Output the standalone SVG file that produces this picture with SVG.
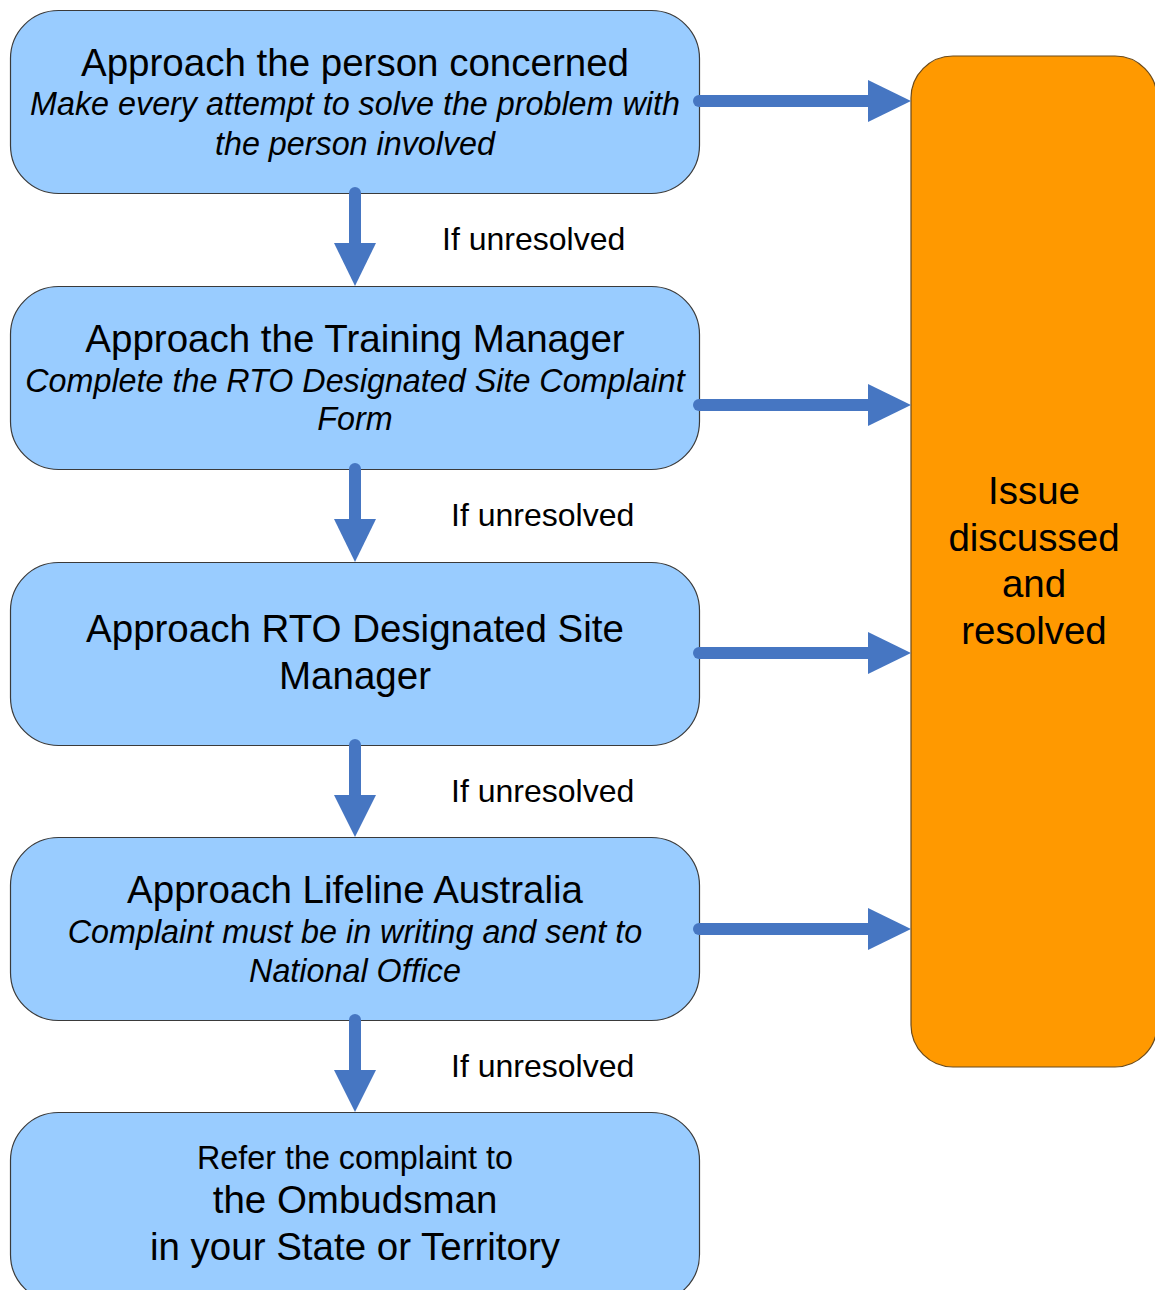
<svg xmlns="http://www.w3.org/2000/svg" width="1155" height="1290" viewBox="0 0 1155 1290">
<style>
.box{fill:#99CCFF;stroke:#3a3a3a;stroke-width:1.2}
.res{fill:#FF9900;stroke:#6b4a1a;stroke-width:1.2}
.t{font-family:"Liberation Sans",Arial,sans-serif;font-size:38.5px;fill:#000;text-anchor:middle}
.i{font-family:"Liberation Sans",Arial,sans-serif;font-size:32.3px;font-style:italic;fill:#000;text-anchor:middle}
.s{font-family:"Liberation Sans",Arial,sans-serif;font-size:32.3px;fill:#000;text-anchor:middle}
.l{font-family:"Liberation Sans",Arial,sans-serif;font-size:32px;fill:#000}
.sh{stroke:#4676C2;stroke-width:12;stroke-linecap:round;fill:none}
.hd{fill:#4676C2}
</style>
<rect width="1155" height="1290" fill="#fff"/>
<g id="resolved">
<rect class="res" x="911" y="56" width="246" height="1011" rx="42"/>
<text class="t" x="1034" y="504">Issue</text>
<text class="t" x="1034" y="551">discussed</text>
<text class="t" x="1034" y="597">and</text>
<text class="t" x="1034" y="644">resolved</text>
</g>
<g id="step1">
<rect class="box" x="10.5" y="10.5" width="689" height="183" rx="48"/>
<text class="t" x="355" y="76">Approach the person concerned</text>
<text class="i" x="355" y="115">Make every attempt to solve the problem with</text>
<text class="i" x="355" y="155">the person involved</text>
</g>
<g id="step2">
<rect class="box" x="10.5" y="286.5" width="689" height="183" rx="48"/>
<text class="t" x="355" y="352">Approach the Training Manager</text>
<text class="i" x="355" y="392">Complete the RTO Designated Site Complaint</text>
<text class="i" x="355" y="430">Form</text>
</g>
<g id="step3">
<rect class="box" x="10.5" y="562.5" width="689" height="183" rx="48"/>
<text class="t" x="355" y="642">Approach RTO Designated Site</text>
<text class="t" x="355" y="689">Manager</text>
</g>
<g id="step4">
<rect class="box" x="10.5" y="837.5" width="689" height="183" rx="48"/>
<text class="t" x="355" y="903">Approach Lifeline Australia</text>
<text class="i" x="355" y="943">Complaint must be in writing and sent to</text>
<text class="i" x="355" y="982">National Office</text>
</g>
<g id="step5">
<rect class="box" x="10.5" y="1112.5" width="689" height="190" rx="48"/>
<text class="s" x="355" y="1169">Refer the complaint to</text>
<text class="t" x="355" y="1213">the Ombudsman</text>
<text class="t" x="355" y="1260">in your State or Territory</text>
</g>
<g id="connectors">
<line class="sh" x1="355" y1="193" x2="355" y2="250"/>
<polygon class="hd" points="334,243 376,243 355,286"/>
<line class="sh" x1="355" y1="469" x2="355" y2="526"/>
<polygon class="hd" points="334,519 376,519 355,562"/>
<line class="sh" x1="355" y1="745" x2="355" y2="802"/>
<polygon class="hd" points="334,795 376,795 355,837"/>
<line class="sh" x1="355" y1="1020" x2="355" y2="1077"/>
<polygon class="hd" points="334,1070 376,1070 355,1112"/>
<line class="sh" x1="699" y1="101" x2="875" y2="101"/>
<polygon class="hd" points="868,80 868,122 911,101"/>
<line class="sh" x1="699" y1="405" x2="875" y2="405"/>
<polygon class="hd" points="868,384 868,426 911,405"/>
<line class="sh" x1="699" y1="653" x2="875" y2="653"/>
<polygon class="hd" points="868,632 868,674 911,653"/>
<line class="sh" x1="699" y1="929" x2="875" y2="929"/>
<polygon class="hd" points="868,908 868,950 911,929"/>
<text class="l" x="442" y="250">If unresolved</text>
<text class="l" x="451" y="526">If unresolved</text>
<text class="l" x="451" y="802">If unresolved</text>
<text class="l" x="451" y="1077">If unresolved</text>
</g>
</svg>
